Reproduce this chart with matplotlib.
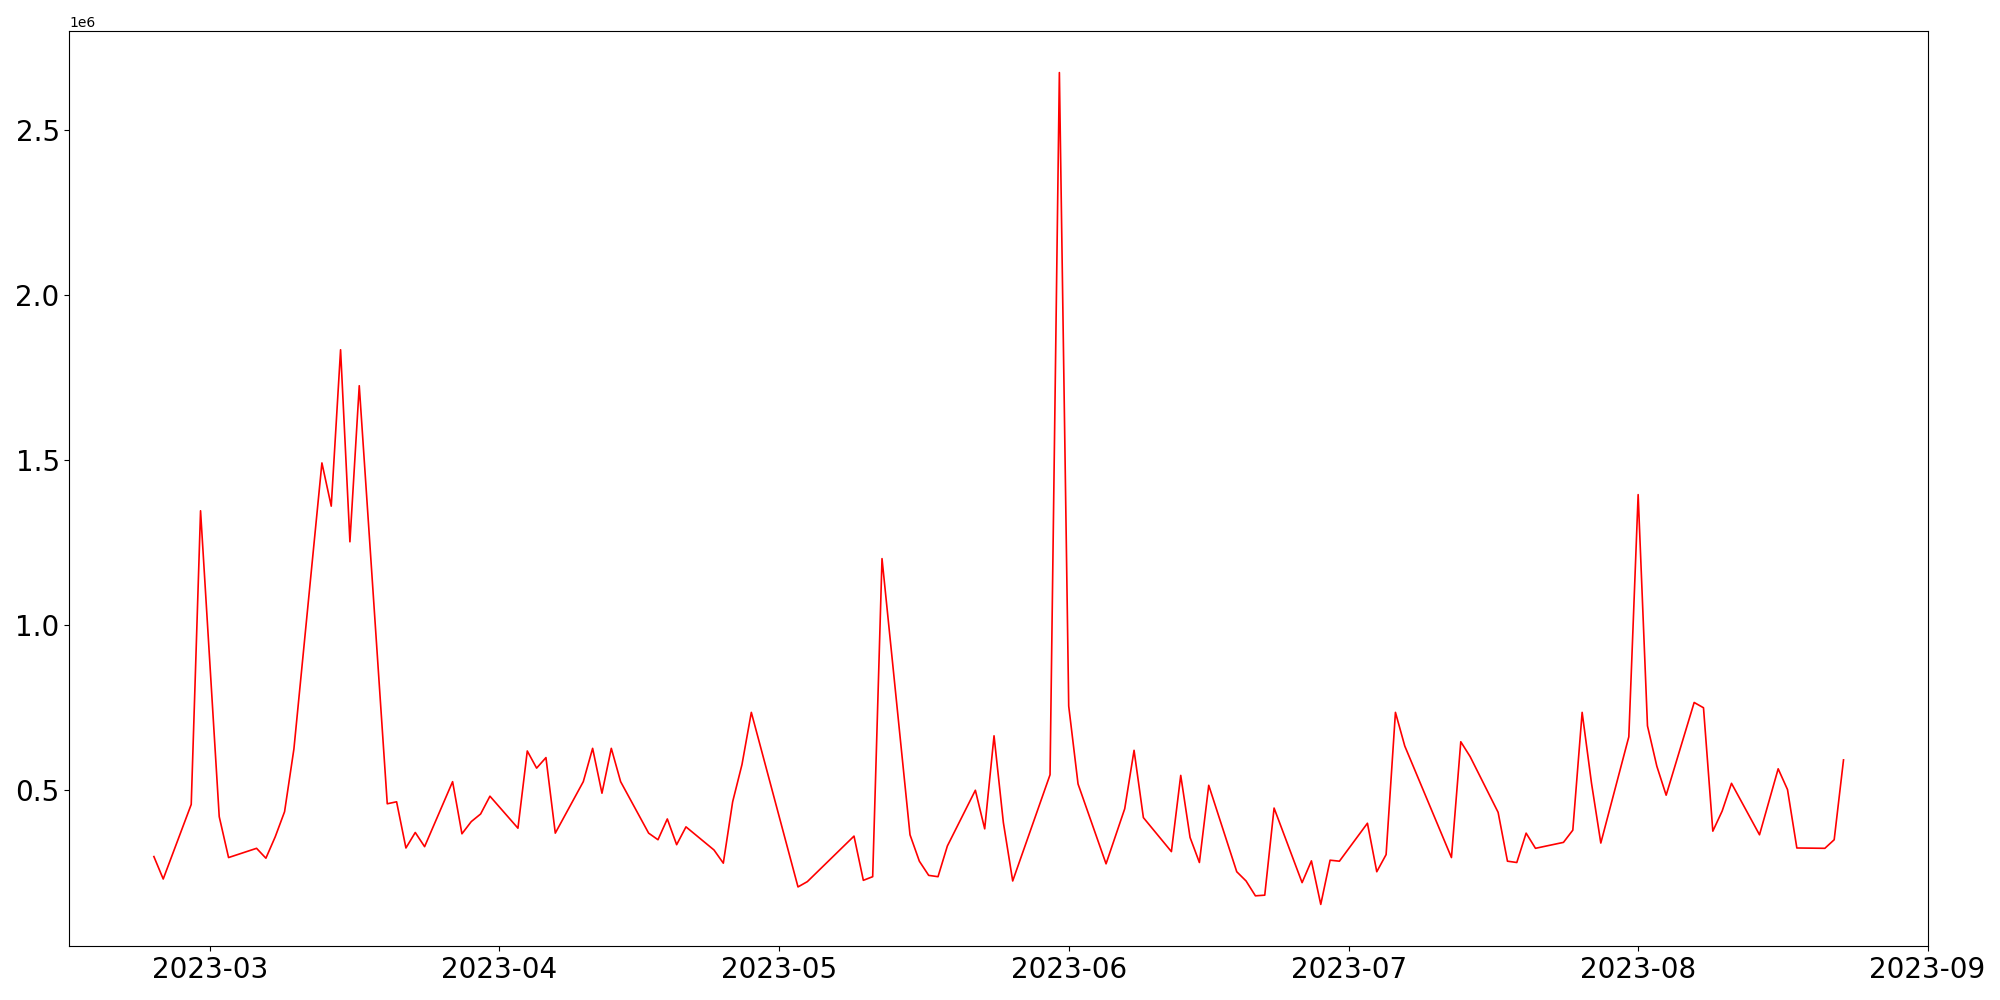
import pandas as pd
import matplotlib
matplotlib.use('Agg')
import matplotlib.pyplot as plt

# Daily volume (in millions)
dates = ['2023-02-23', '2023-02-24', '2023-02-27', '2023-02-28', '2023-03-02', '2023-03-03',
         '2023-03-06', '2023-03-07', '2023-03-08', '2023-03-09', '2023-03-10',
         '2023-03-13', '2023-03-14', '2023-03-15', '2023-03-16', '2023-03-17',
         '2023-03-20', '2023-03-21', '2023-03-22', '2023-03-23', '2023-03-24',
         '2023-03-27', '2023-03-28', '2023-03-29', '2023-03-30', '2023-03-31',
         '2023-04-03', '2023-04-04', '2023-04-05', '2023-04-06', '2023-04-07',
         '2023-04-10', '2023-04-11', '2023-04-12', '2023-04-13', '2023-04-14',
         '2023-04-17', '2023-04-18', '2023-04-19', '2023-04-20', '2023-04-21',
         '2023-04-24', '2023-04-25', '2023-04-26', '2023-04-27', '2023-04-28',
         '2023-05-03', '2023-05-04', '2023-05-09', '2023-05-10', '2023-05-11', '2023-05-12',
         '2023-05-15', '2023-05-16', '2023-05-17', '2023-05-18', '2023-05-19',
         '2023-05-22', '2023-05-23', '2023-05-24', '2023-05-25', '2023-05-26',
         '2023-05-30', '2023-05-31', '2023-06-01', '2023-06-02',
         '2023-06-05', '2023-06-07', '2023-06-08', '2023-06-09',
         '2023-06-12', '2023-06-13', '2023-06-14', '2023-06-15', '2023-06-16',
         '2023-06-19', '2023-06-20', '2023-06-21', '2023-06-22', '2023-06-23',
         '2023-06-26', '2023-06-27', '2023-06-28', '2023-06-29', '2023-06-30',
         '2023-07-03', '2023-07-04', '2023-07-05', '2023-07-06', '2023-07-07',
         '2023-07-12', '2023-07-13', '2023-07-14',
         '2023-07-17', '2023-07-18', '2023-07-19', '2023-07-20', '2023-07-21',
         '2023-07-24', '2023-07-25', '2023-07-26', '2023-07-27', '2023-07-28',
         '2023-07-31', '2023-08-01', '2023-08-02', '2023-08-03', '2023-08-04',
         '2023-08-07', '2023-08-08', '2023-08-09', '2023-08-10', '2023-08-11',
         '2023-08-14', '2023-08-16', '2023-08-17', '2023-08-18',
         '2023-08-21', '2023-08-22', '2023-08-23']

volume_m = [0.297, 0.229, 0.455, 1.345, 0.418, 0.294,
            0.322, 0.292, 0.357, 0.433, 0.623,
            1.490, 1.359, 1.833, 1.251, 1.724,
            0.457, 0.463, 0.323, 0.370, 0.327,
            0.524, 0.366, 0.403, 0.426, 0.480,
            0.383, 0.617, 0.565, 0.597, 0.368,
            0.524, 0.625, 0.489, 0.625, 0.524,
            0.368, 0.348, 0.411, 0.333, 0.387,
            0.317, 0.277, 0.463, 0.576, 0.734,
            0.205, 0.221, 0.359, 0.225, 0.236, 1.200,
            0.363, 0.283, 0.240, 0.236, 0.329,
            0.498, 0.381, 0.663, 0.400, 0.223,
            0.545, 2.673, 0.753, 0.517,
            0.275, 0.442, 0.619, 0.415,
            0.312, 0.543, 0.355, 0.279, 0.513,
            0.251, 0.223, 0.178, 0.180, 0.444,
            0.218, 0.284, 0.152, 0.286, 0.283,
            0.398, 0.251, 0.303, 0.734, 0.632,
            0.294, 0.645, 0.600,
            0.431, 0.283, 0.279, 0.368, 0.322,
            0.340, 0.377, 0.734, 0.520, 0.338,
            0.660, 1.394, 0.693, 0.571, 0.483,
            0.764, 0.748, 0.374, 0.435, 0.519,
            0.363, 0.563, 0.500, 0.323,
            0.322, 0.348, 0.590]

df = pd.DataFrame({'Date': pd.to_datetime(dates), 'Volume': [v * 1e6 for v in volume_m]})

fig = plt.figure(figsize=(20, 10), dpi=100)
plt.plot(df['Date'], df['Volume'], color='red', linewidth=1.2)
plt.xticks(fontsize=20)
plt.yticks(fontsize=20)
plt.subplots_adjust(left=0.0347, right=0.964, bottom=0.054, top=0.969)
plt.savefig('out.png', format='png')
